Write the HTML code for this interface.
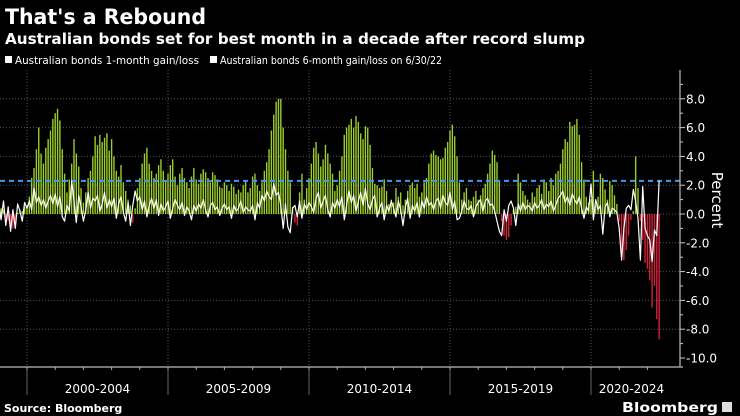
<!DOCTYPE html>
<html><head><meta charset="utf-8"><style>
html,body{margin:0;padding:0;background:#000;}
svg{display:block;font-family:"DejaVu Sans","Liberation Sans",sans-serif;}
</style></head><body>
<svg id="chart" width="740" height="416" viewBox="0 0 740 416">
<rect width="740" height="416" fill="#000"/>
<text x="5" y="24" fill="#fff" font-weight="bold" font-size="21" textLength="201" lengthAdjust="spacingAndGlyphs">That's a Rebound</text>
<text x="5" y="44" fill="#fff" font-weight="bold" font-size="15" textLength="580" lengthAdjust="spacingAndGlyphs">Australian bonds set for best month in a decade after record slump</text>
<g>
<rect x="5" y="56" width="7" height="7" fill="#fff"/>
<text x="15" y="64" fill="#fff" font-size="10.5" textLength="184" lengthAdjust="spacingAndGlyphs">Australian bonds 1-month gain/loss</text>
<rect x="210" y="56" width="7" height="7" fill="#fff"/>
<text x="220" y="64" fill="#fff" font-size="10.5" textLength="222" lengthAdjust="spacingAndGlyphs">Australian bonds 6-month gain/loss on 6/30/22</text>
</g>
<g id="grid"></g>
<g id="bars"></g>
<g id="ref"></g>
<g id="line"></g>
<g id="axes"></g>
<text x="0" y="0" transform="translate(712,200) rotate(90)" text-anchor="middle" fill="#fff" font-size="15">Percent</text>
<text x="4" y="412" fill="#fff" font-weight="bold" font-size="11">Source: Bloomberg</text>
<text x="718" y="412" text-anchor="end" fill="#fff" font-weight="bold" font-size="13" textLength="96" lengthAdjust="spacingAndGlyphs">Bloomberg</text>
<rect x="722" y="402" width="10" height="10" fill="#ddd"/>
</svg>
<script>
const sixMonth = [
0.2,0.4,0.3,-0.3,-0.5,-0.8,-1.0,-0.6,0.1,0.3,0.2,0.5,
0.5,1.2,2.5,3.2,4.5,6.0,4.2,3.5,4.6,5.2,5.8,6.6,
7.0,7.3,6.5,4.5,2.8,1.5,2.4,3.5,5.2,4.2,3.3,1.8,
0.8,1.5,2.5,3.0,4.0,5.4,4.8,5.5,5.0,5.3,5.6,4.4,
5.2,4.0,3.0,2.6,3.4,2.2,1.6,1.0,0.6,-0.6,0.4,1.8,
2.5,3.5,4.2,4.6,3.5,3.0,2.5,2.8,3.4,3.8,3.0,2.3,
2.8,3.4,3.8,2.6,2.0,2.8,3.2,2.5,2.2,1.8,2.6,3.2,
2.4,2.1,2.8,3.1,2.9,2.5,2.2,2.9,2.7,2.4,1.9,1.8,
2.2,2.0,1.6,2.1,1.9,1.4,1.7,1.5,2.0,2.3,1.5,1.8,
2.6,2.8,2.0,1.6,2.2,3.0,3.6,4.5,5.8,6.9,7.8,8.0,
8.0,6.0,4.5,3.0,2.2,0.5,-0.6,-0.8,1.5,2.8,1.0,1.8,
2.5,3.5,4.6,5.0,4.2,3.3,3.8,4.8,4.2,3.5,2.8,1.6,
2.0,3.0,4.0,5.5,6.0,6.2,6.6,6.0,6.8,6.4,5.6,5.2,
6.1,6.0,4.8,3.2,2.1,2.0,1.8,1.9,2.4,1.6,0.7,1.0,
0.8,1.8,1.2,1.5,0.6,1.0,1.6,2.0,2.2,1.8,2.1,1.2,
1.5,2.2,2.5,3.5,4.2,4.4,4.1,4.0,3.8,3.9,4.6,5.0,
5.8,6.2,5.4,4.0,2.2,1.0,1.5,1.8,1.0,0.9,1.2,1.6,
1.0,1.3,1.8,2.1,2.8,3.5,4.4,4.1,3.6,2.3,-0.5,-1.5,
-1.8,-1.6,-0.8,0.3,0.5,2.8,2.2,1.6,1.3,1.0,0.8,1.5,
1.2,1.8,2.0,1.4,2.4,2.2,1.6,2.5,2.0,2.8,3.0,3.5,
4.5,5.2,5.0,6.4,6.1,6.2,6.6,5.5,3.6,2.4,1.2,0.8,
1.0,3.0,0.6,1.2,2.8,2.5,1.7,1.0,2.3,2.0,1.3,0.7,
-0.5,-2.8,-3.2,-2.5,-1.5,-0.4,0.2,4.0,1.8,-0.5,-1.8,-3.4,
-3.8,-4.6,-6.5,-5.0,-7.3,-8.7];
const oneMonth = [
0.6,-0.4,0.9,-0.8,0.5,-1.2,0.3,-1.0,0.7,0.2,-0.5,0.8,
0.4,0.9,0.3,1.8,0.8,1.2,0.6,1.0,0.4,0.9,1.3,0.7,
1.4,0.5,1.2,-0.2,-0.5,0.6,0.2,2.3,0.9,-0.6,1.3,0.5,
-0.5,0.3,1.5,0.4,1.1,0.9,1.3,0.2,0.7,1.5,0.4,1.0,
0.5,1.1,-0.3,0.7,1.2,0.1,-0.5,0.8,-0.8,0.6,1.6,0.9,
1.2,0.3,0.9,-0.2,0.6,1.1,0.4,1.0,-0.1,0.7,0.2,0.5,
0.9,-0.3,0.4,1.0,0.6,0.3,0.8,-0.1,0.5,0.2,-0.4,0.6,
0.2,0.7,0.4,1.0,0.3,-0.2,0.6,0.8,0.3,0.5,-0.1,0.4,
0.7,0.3,0.5,-0.3,0.6,0.2,0.4,0.9,0.1,0.5,0.3,0.2,
0.6,-0.4,0.8,0.4,1.3,0.9,1.6,1.2,1.0,2.1,1.3,1.5,
0.6,-1.0,0.7,-0.9,-1.3,0.4,0.6,-0.2,0.9,-0.3,0.7,0.3,
0.8,0.5,0.1,1.1,1.5,0.4,0.9,1.3,0.3,-0.2,0.8,0.4,
1.0,0.5,1.2,-0.4,0.6,1.6,0.8,1.3,0.2,0.9,1.5,0.6,
1.8,0.7,0.3,1.0,1.3,-0.2,0.4,0.8,-0.4,0.6,0.2,0.9,
0.4,-0.2,0.9,0.3,-0.8,0.5,1.1,-0.3,0.6,0.2,0.8,-0.2,
0.9,0.4,1.2,0.6,0.8,0.3,0.9,1.1,0.4,1.3,0.8,0.6,
1.5,0.3,0.9,-0.4,-0.3,0.2,0.9,0.4,0.3,0.6,-0.2,0.5,
0.8,1.0,0.2,0.9,1.1,0.6,0.7,0.2,-0.5,-1.2,-1.5,0.3,
-0.5,0.6,0.9,0.4,-0.8,0.7,0.2,0.8,0.3,0.6,0.5,0.2,
0.8,0.4,0.6,1.0,0.3,0.7,0.5,0.9,0.2,0.6,1.1,1.3,
1.6,0.8,1.2,0.6,1.4,1.0,0.7,1.2,0.4,-0.3,0.5,0.2,
2.1,-0.4,1.0,0.3,0.6,-1.4,0.5,0.8,-0.2,0.4,0.3,0.1,
-1.0,-3.2,-1.0,0.4,0.6,0.3,1.7,0.9,-0.3,-3.2,1.9,-1.0,
-1.5,-1.8,-3.3,-1.1,-1.5,2.3];
const yTicks = [8,6,4,2,0,-2,-4,-6,-8,-10];
const periodLabels = ["2000-2004","2005-2009","2010-2014","2015-2019","2020-2024"];
const refValue = 2.3;

const NS = "http://www.w3.org/2000/svg";
const startYear = 1999;
function xScale(i){ return 27 + (i - 12) * 2.35; }
function yearX(y){ return xScale((y - startYear) * 12); }
function yScale(v){ return 214 - v * 14.4; }
function mk(tag, attrs, parent){ const e = document.createElementNS(NS, tag); for (const k in attrs) e.setAttribute(k, attrs[k]); parent.appendChild(e); return e; }

const grid = document.getElementById('grid');
const axes = document.getElementById('axes');
const plotRight = 680, plotTop = 70, plotBottom = 367;
yTicks.forEach(t => {
  const y = yScale(t);
  if (t !== -10) {
    const g = mk('line', {x1:0, x2:plotRight, y1:y, y2:y, stroke:'#555', 'stroke-width':1, 'stroke-dasharray':'1,2'}, grid);
    
    
  }
  const tk = mk('line', {x1:plotRight, x2:plotRight+5, y1:y, y2:y, stroke:'#ccc', 'stroke-width':1}, axes);
  
  
  const lb = mk('text', {x:plotRight+6, y:y+4.5, fill:'#fff', 'font-size':12}, axes);
  lb.textContent = (t < 0 ? '-' : '') + Math.abs(t).toFixed(1);
  
  
});
for (let v = -11; v <= 9; v += 2) {
  const y = yScale(v);
  if (y < plotTop || y > plotBottom) continue;
  const m = mk('line', {x1:plotRight, x2:plotRight+3, y1:y, y2:y, stroke:'#ccc', 'stroke-width':1}, axes);
  
  
}
for (let y = 2000; y <= 2020; y += 5) {
  const x = yearX(y);
  const g = mk('line', {x1:x, x2:x, y1:plotTop, y2:plotBottom, stroke:'#555', 'stroke-width':1, 'stroke-dasharray':'1,2'}, grid);
  
  
  const d = mk('line', {x1:x, x2:x, y1:plotBottom, y2:395, stroke:'#666', 'stroke-width':1}, axes);
  
  
}
for (let y = 2000; y <= 2022; y++) {
  const x = yearX(y);
  const t = mk('line', {x1:x, x2:x, y1:plotBottom, y2:plotBottom+3, stroke:'#aaa', 'stroke-width':1}, axes);
  
  
}
periodLabels.forEach((lab, k) => {
  const x0 = yearX(2000 + 5*k), x1 = k < 4 ? yearX(2005 + 5*k) : 672;
  const t = mk('text', {x:(x0+x1)/2, y:393, fill:'#fff', 'font-size':12, 'text-anchor':'middle'}, axes);
  t.textContent = lab;
  
  
});
const xa = mk('line', {x1:0, x2:plotRight+3, y1:plotBottom, y2:plotBottom, stroke:'#bbb', 'stroke-width':1.2}, axes);


const ya = mk('line', {x1:plotRight, x2:plotRight, y1:plotTop, y2:plotBottom, stroke:'#bbb', 'stroke-width':1.2}, axes);



const bars = document.getElementById('bars');
sixMonth.forEach((v, i) => {
  const x = xScale(i), y0 = yScale(0), y = yScale(v);
  const b = mk('rect', {x:x-0.7, y:Math.min(y,y0), width:1.4, height:Math.max(0.5, Math.abs(y-y0)), fill: v >= 0 ? '#9ccc2a' : '#d4213a'}, bars);
  
  
});

const ref = document.getElementById('ref');
const rl = mk('line', {x1:0, x2:plotRight, y1:yScale(refValue), y2:yScale(refValue), stroke:'#3a9ff0', 'stroke-width':2, 'stroke-dasharray':'5,4'}, ref);



const line = document.getElementById('line');
const pts = oneMonth.map((v, i) => xScale(i).toFixed(1) + ',' + yScale(v).toFixed(1)).join(' ');
const pl = mk('polyline', {points:pts, fill:'none', stroke:'#fff', 'stroke-width':1.2, 'stroke-linejoin':'round'}, line);


</script>
</body></html>
